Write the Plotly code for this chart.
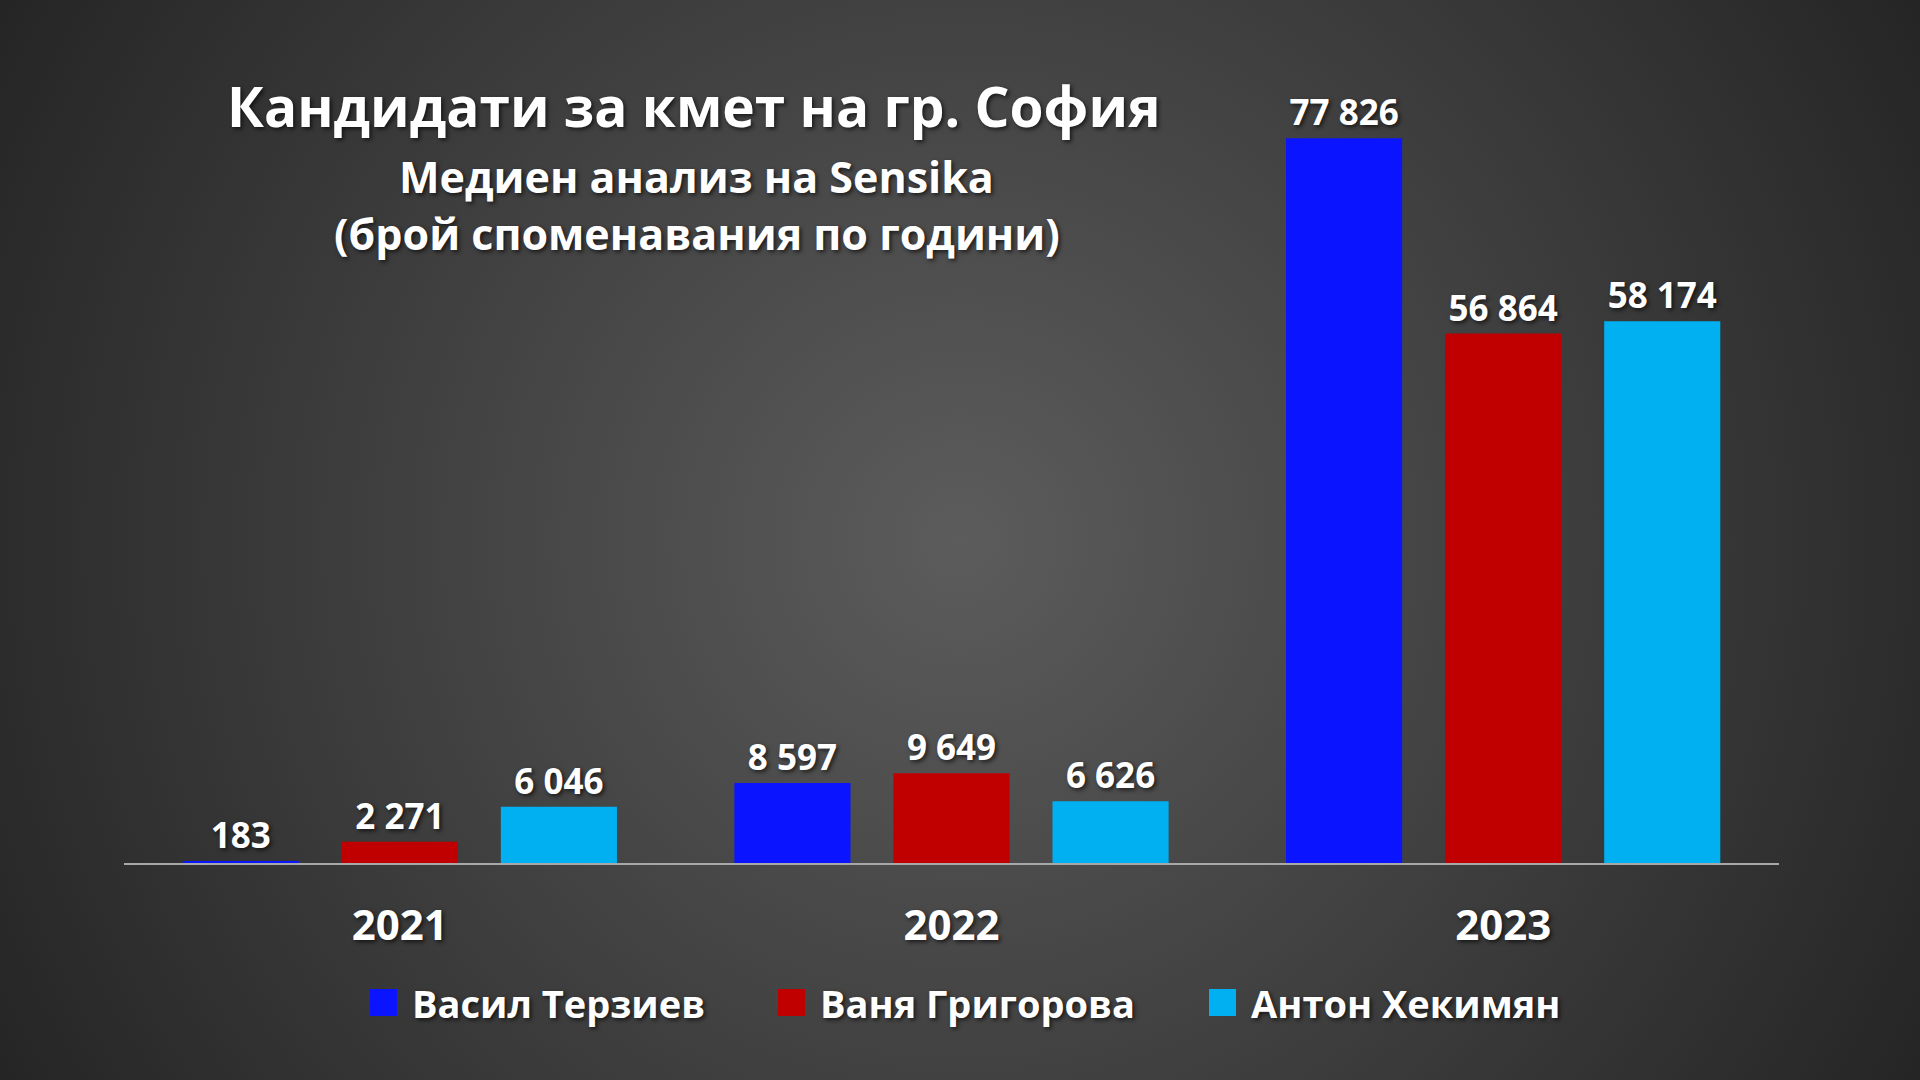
import base64
import plotly.graph_objects as go

# data
years = ["2021", "2022", "2023"]
candidates = ["Васил Терзиев", "Ваня Григорова", "Антон Хекимян"]
terziev = [183, 8597, 77826]
grigorova = [2271, 9649, 56864]
hekimyan = [6046, 6626, 58174]
colors = ["#0a14ff", "#c00000", "#00b0f0"]

title_lines = [
    "Кандидати за кмет на гр. София",
    "Медиен анализ на Sensika",
    "(брой споменавания по години)",
]

W, H = 1920, 1080
FONT = "Open Sans"
SHADOW = "2px 2px 4px rgba(0,0,0,0.65)"

# radial grey background as inline svg
svg = (
    f'<svg xmlns="http://www.w3.org/2000/svg" width="{W}" height="{H}">'
    '<defs><radialGradient id="g" gradientUnits="userSpaceOnUse" '
    f'cx="{W / 2}" cy="{H / 2}" r="1100">'
    '<stop offset="0" stop-color="#5c5c5c"/>'
    '<stop offset="1" stop-color="#252525"/>'
    "</radialGradient></defs>"
    f'<rect width="{W}" height="{H}" fill="url(#g)"/></svg>'
)
bg_src = "data:image/svg+xml;base64," + base64.b64encode(svg.encode()).decode()

fig = go.Figure()
for name, vals, col in zip(candidates, [terziev, grigorova, hekimyan], colors):
    fig.add_trace(
        go.Bar(
            x=years,
            y=vals,
            name=name,
            marker=dict(color=col, line=dict(width=0)),
            texttemplate="%{y:,}",
            textposition="outside",
            textfont=dict(family=FONT, size=35, color="white", weight="bold", shadow=SHADOW),
            cliponaxis=False,
            showlegend=False,
        )
    )

# title block
title_pos = [(694, 106, 55), (696, 176, 43), (697, 233, 43)]
annotations = []
for txt, (cx, cy, fs) in zip(title_lines, title_pos):
    annotations.append(
        dict(
            text=txt, x=cx / W, y=1 - cy / H, xref="paper", yref="paper",
            xanchor="center", yanchor="middle", showarrow=False,
            font=dict(family=FONT, size=fs, color="white", weight="bold", shadow=SHADOW),
        )
    )

# custom legend (big square swatches)
legend_left = [370, 778, 1209]
shapes = []
for name, col, lx in zip(candidates, colors, legend_left):
    shapes.append(
        dict(
            type="rect", xref="paper", yref="paper",
            x0=lx / W, x1=(lx + 27) / W, y0=1 - 1016 / H, y1=1 - 989 / H,
            fillcolor=col, line=dict(width=0),
        )
    )
    annotations.append(
        dict(
            text=name, x=(lx + 40) / W, y=1 - 1003 / H, xref="paper", yref="paper",
            xanchor="left", yanchor="middle", showarrow=False,
            font=dict(family=FONT, size=38, color="white", weight="bold", shadow=SHADOW),
        )
    )

fig.update_layout(
    width=W,
    height=H,
    margin=dict(l=0, r=0, t=0, b=0),
    paper_bgcolor="#262626",
    plot_bgcolor="rgba(0,0,0,0)",
    barmode="group",
    bargap=0.135,
    bargroupgap=0.27,
    separators=". ",
    showlegend=False,
    annotations=annotations,
    shapes=shapes,
    images=[
        dict(
            source=bg_src, xref="paper", yref="paper", x=0, y=1,
            sizex=1, sizey=1, xanchor="left", yanchor="top",
            sizing="stretch", layer="below",
        )
    ],
    xaxis=dict(
        domain=[124 / W, 1779 / W],
        showline=True,
        linecolor="#a8a8a8",
        linewidth=2,
        showgrid=False,
        ticks="outside",
        ticklen=25,
        tickcolor="rgba(0,0,0,0)",
        tickfont=dict(family=FONT, size=42, color="white", weight="bold", shadow=SHADOW),
    ),
    yaxis=dict(
        domain=[217 / H, 1 - 25 / H],
        range=[0, 90000],
        visible=False,
        showgrid=False,
        zeroline=False,
    ),
)

fig.write_html(
    "out.html",
    config={"displayModeBar": False},
    post_script="document.body.style.margin='0';document.body.style.overflow='hidden';",
)
